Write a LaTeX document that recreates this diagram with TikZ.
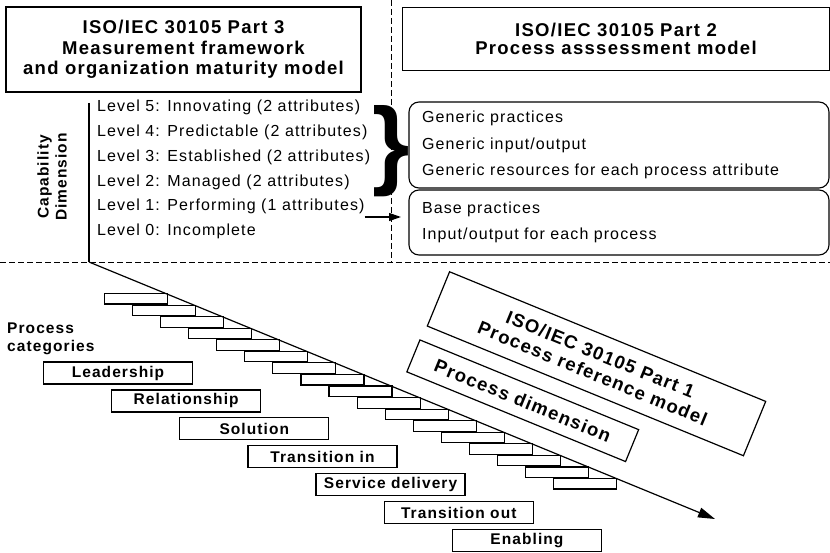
\documentclass[tikz,border=0pt]{standalone}
\usepackage{fontspec}
\setmainfont{Liberation Sans}[LetterSpace=7]
\usetikzlibrary{arrows.meta, positioning}
\newcommand{\hdrfont}{\fontsize{18.5}{20.5}\selectfont\bfseries}
\newcommand{\lvlfont}{\fontsize{16}{26.5}\selectfont}
\newcommand{\catfont}{\fontsize{15.5}{18}\selectfont\bfseries}
\tikzset{
  hdrbox/.style={rectangle, draw, line width=1.3pt, align=center,
    font=\hdrfont, inner sep=0pt},
  pambox/.style={rectangle, draw, line width=1.1pt, rounded corners=10pt,
    minimum width=420pt, text width=394pt, align=left, inner xsep=13pt,
    inner ysep=0pt, font=\lvlfont},
  lvltext/.style={anchor=base west, font=\lvlfont, inner sep=0pt},
  catbox/.style={rectangle, draw, line width=1.3pt, minimum width=149pt,
    minimum height=22pt, font=\catfont, inner sep=0pt},
  stepbox/.style={rectangle, draw, line width=1.1pt, minimum width=63pt,
    minimum height=10.5pt, inner sep=0pt, anchor=north west},
  tiltbox/.style={rectangle, draw, line width=1.2pt, rotate=-22.3,
    align=center, font=\hdrfont, inner sep=0pt},
  divider/.style={line width=0.9pt, dash pattern=on 6pt off 3pt},
  arrow/.style={-{Triangle[length=17pt,width=10pt]}, line width=1.2pt},
  smallarrow/.style={-{Triangle[length=12pt,width=8pt]}, line width=1.2pt}
}
\begin{document}
\begin{tikzpicture}[x=1pt, y=-1pt]
  \useasboundingbox (0,0) rectangle (830,553);

  % Dividers
  \coordinate (divL) at (0,262);
  \coordinate (divR) at (830,262);
  \coordinate (divT) at (391,0);
  \coordinate (divB) at (391,262);
  \draw[divider] (divL) -- (divR);
  \draw[divider] (divT) -- (divB);

  % Part 3 and Part 2 headers
  \node[hdrbox, minimum width=355pt, minimum height=85pt] (part3) at (183.5,49.5)
    {ISO/IEC 30105 Part 3\\Measurement framework\\and organization maturity model};
  \node[hdrbox, minimum width=427pt, minimum height=63pt,
    font=\fontsize{18.5}{18.5}\selectfont\bfseries] (part2) at (616,39)
    {ISO/IEC 30105 Part 2\\Process asssessment model};

  % Capability dimension
  \node[font=\catfont, rotate=90, align=center, inner sep=0pt] (capdim) at (52,177)
    {Capability\\Dimension};
  \coordinate (captop) at (89,103);
  \coordinate (origin) at (89,262);
  \draw[line width=1.2pt] (captop) -- (origin);

  \foreach \lv/\txt [count=\i from 0] in {5/Innovating (2 attributes),
      4/Predictable (2 attributes), 3/Established (2 attributes),
      2/Managed (2 attributes), 1/Performing (1 attributes), 0/Incomplete}
    \node[lvltext] (lvl\lv) at (97,112+24.7*\i) {Level \lv: \txt};

  % Brace and arrow to the assessment model
  \node[inner sep=0pt] (brace) at (391,151)
    {\scalebox{2.4}[2.45]{\fontsize{40}{40}\selectfont\bfseries\}}};
  \coordinate (pin) at (401,217);
  \draw[smallarrow] (lvl1.east |- pin) -- (pin);

  % Assessment model boxes
  \node[pambox, minimum height=86pt] (generic) at (619,145)
    {Generic practices\\Generic input/output\\Generic resources for each process attribute};
  \node[pambox, minimum height=65pt] (base) at (619,222.5)
    {Base practices\\Input/output for each process};

  % Process dimension steps
  \foreach \i in {0,...,16}
    \node[stepbox] (step\i) at (104+28.06*\i,293+11.56*\i) {};
  \coordinate (pdend) at (715,519);
  \draw[arrow] (origin) -- (pdend);

  % Process categories
  \node[font=\catfont, align=left, anchor=north west, inner sep=0pt] (proccat) at (7,323)
    {Process\\categories};
  \foreach \cat [count=\i from 0] in {Leadership, Relationship, Solution,
      Transition in, Service delivery, Transition out, Enabling}
    \node[catbox] (cat\i) at (118+68.15*\i,373+27.9*\i) {\cat};

  % Part 1
  \node[tiltbox, minimum width=341.7pt, minimum height=58.7pt,
    font=\fontsize{18.5}{20.5}\selectfont\bfseries] (part1) at (596.5,363.75)
    {ISO/IEC 30105 Part 1\\Process reference model};
  \node[tiltbox, minimum width=236.4pt, minimum height=34.5pt] (procdim) at (522.75,400.75)
    {Process dimension};
\end{tikzpicture}
\end{document}
